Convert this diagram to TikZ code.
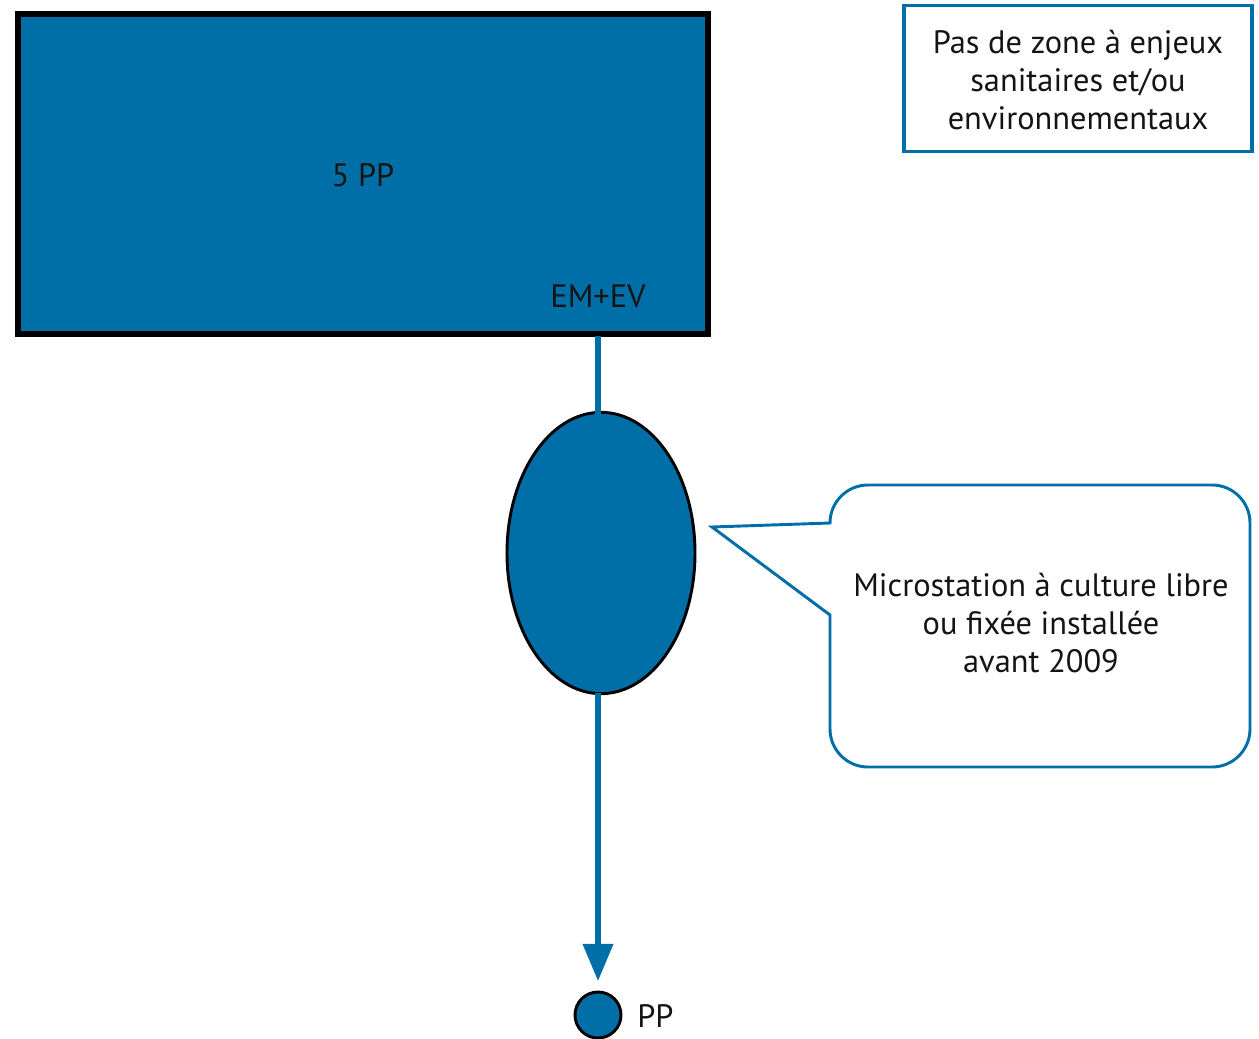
\documentclass[tikz,border=0pt]{standalone}
\usepackage{fontspec}
\setmainfont{PT Sans}
\usetikzlibrary{shapes.geometric,arrows.meta}
\definecolor{mblue}{RGB}{0,111,168}
\definecolor{ink}{RGB}{20,20,20}
\tikzset{
  x=0.75pt, y=-0.75pt,
  txt/.style={text=ink, font=\fontsize{24.3}{28.8}\selectfont, align=center, inner sep=0pt},
  bigbox/.style={draw=black, line width=4.5pt, fill=mblue, minimum width=517.5pt, minimum height=240pt, inner sep=0pt},
  oval/.style={ellipse, draw=black, line width=2.2pt, fill=mblue, minimum width=141pt, minimum height=211pt, inner sep=0pt},
  dot/.style={circle, draw=black, line width=2.2pt, fill=mblue, minimum size=34.5pt, inner sep=0pt},
  infobox/.style={draw=mblue, line width=2.4pt, fill=white, minimum width=261pt, minimum height=110pt, inner sep=0pt},
  link/.style={draw=mblue, line width=4.5pt},
  callout/.style={draw=mblue, line width=2.2pt, fill=white, line join=miter}
}
\begin{document}
\begin{tikzpicture}
\useasboundingbox (0,0) rectangle (1259,1038);
\node[bigbox] (top) at (363,174) {};
\node[txt] (fivepp) at (363,175) {5 PP};
\node[txt] (emev) at (598,296) {EM+EV};
\node[infobox] (zone) at (1078,78.5) {};
\node[txt] (zonetxt) at (1078,80) {Pas de zone à enjeux\\sanitaires et/ou\\environnementaux};
\node[oval] (micro) at (601,553) {};
\node[dot] (pp) at (598,1015) {};
\node[txt, anchor=west] (pplabel) at (637,1016) {PP};
\draw[link] (598,336) -- (598,415);
\draw[link, -{Triangle[length=28pt,width=22pt]}, shorten >=7pt] (598,693) -- (pp.north);
\draw[callout] (830,615) -- (830,729) arc[start angle=180, end angle=90, radius=38]
  -- (1212,767) arc[start angle=90, end angle=0, radius=38]
  -- (1250,523) arc[start angle=0, end angle=-90, radius=38]
  -- (868,485) arc[start angle=270, end angle=180, radius=38]
  -- (712,527) -- cycle;
\node[txt] (microtxt) at (1041,623) {Microstation à culture libre\\ou fixée installée\\avant 2009};
\end{tikzpicture}
\end{document}
